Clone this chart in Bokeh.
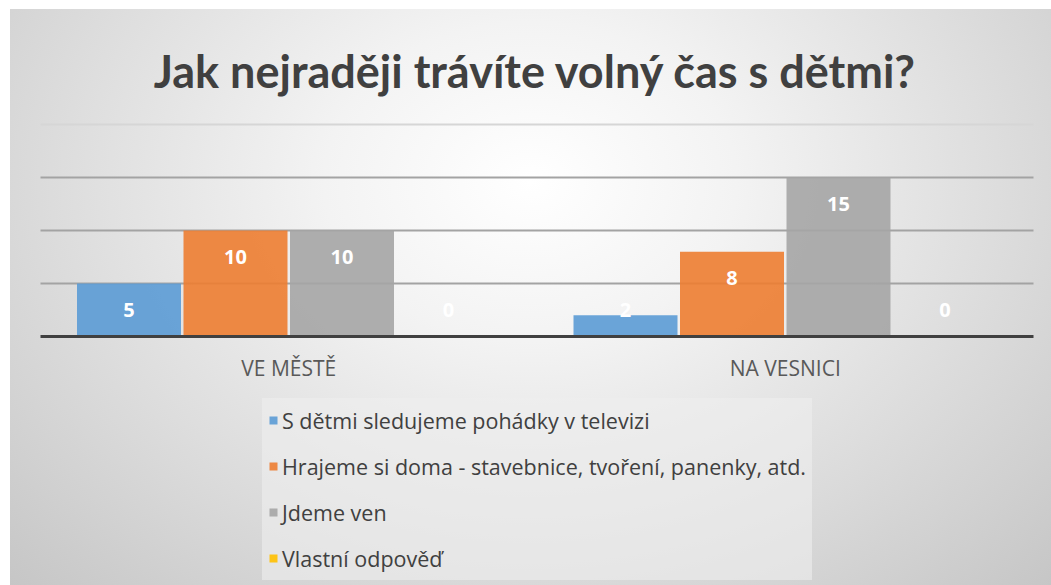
import numpy as np
from bokeh.plotting import figure
from bokeh.models import ColumnDataSource, Range1d, Legend, LegendItem, Label
from bokeh.core.properties import value
from bokeh.embed import file_html
from bokeh.resources import INLINE

# ---- data ----
title_text = "Jak nejraději trávíte volný čas s dětmi?"
categories = ["VE MĚSTĚ", "NA VESNICI"]
series_names = [
    "S dětmi sledujeme pohádky v televizi",
    "Hrajeme si doma - stavebnice, tvoření, panenky, atd.",
    "Jdeme ven",
    "Vlastní odpověď",
]
tv_values = [5, 2]
doma_values = [10, 8]
ven_values = [10, 15]
vlastni_values = [0, 0]
series_values = [tv_values, doma_values, ven_values, vlastni_values]
series_colors = ["#5b9bd5", "#ed7d31", "#a5a5a5", "#ffc000"]
grid_ticks = [5, 10, 15, 20]
grid_colors = ["#a3a3a3", "#a3a3a3", "#a3a3a3", "#d6d6d6"]

# ---- layout geometry (pixels) ----
W, H = 1051, 585
plot_left, plot_right = 40, 1033
base_px, px_per_unit = 336, 10.6
n_cat = len(categories)
cat_w = (plot_right - plot_left) / n_cat
x_start = -plot_left / cat_w
x_end = (W - plot_left) / cat_w
y_top = base_px / px_per_unit
y_bot = (base_px - H) / px_per_unit

def px_x(px):
    return (px - plot_left) / cat_w

def px_y(py):
    return (base_px - py) / px_per_unit

p = figure(width=W, height=H, x_range=Range1d(x_start, x_end),
           y_range=Range1d(y_bot, y_top), x_axis_type=None, y_axis_type=None,
           toolbar_location=None, output_backend="svg", min_border=0)
p.outline_line_color = None
p.background_fill_alpha = 0
p.border_fill_alpha = 0
p.styles = {
    "background": "radial-gradient(ellipse farthest-corner at 50% 30%, #ffffff 0%, #f3f3f3 28%, #dedede 62%, #c6c6c6 100%) 10px 9px / 1041px 576px no-repeat, #ffffff"
}

# gridlines
gsrc = ColumnDataSource(dict(x0=[0] * len(grid_ticks), x1=[n_cat] * len(grid_ticks),
                             y=grid_ticks, c=grid_colors))
p.segment(x0="x0", x1="x1", y0="y", y1="y", line_color="c", line_width=2, source=gsrc)

# bars
pitch = 106.5 / cat_w
bar_w = 104 / cat_w
idx = np.arange(n_cat) + 0.5
renderers = []
for j, (vals, col) in enumerate(zip(series_values, series_colors)):
    xs = idx + (j - (len(series_values) - 1) / 2) * pitch
    src = ColumnDataSource(dict(x=xs, top=vals))
    r = p.vbar(x="x", top="top", bottom=0, width=bar_w, fill_color=col,
               fill_alpha=0.9, line_color=None, source=src)
    renderers.append(r)
    lab = ColumnDataSource(dict(x=xs, y=np.maximum(np.array(vals, float), 5) - 26 / px_per_unit,
                                t=[str(v) for v in vals]))
    p.text(x="x", y="y", text="t", source=lab, text_color="white",
           text_font=value("Open Sans"), text_font_style="bold", text_font_size="20px",
           text_align="center", text_baseline="middle")

# baseline axis
p.segment(x0=[0], x1=[n_cat], y0=[0], y1=[0], line_color="#404040", line_width=3)

# category labels
csrc = ColumnDataSource(dict(x=idx, y=[px_y(367)] * n_cat, t=categories))
p.text(x="x", y="y", text="t", source=csrc, text_color="#595959",
       text_font=value("Open Sans"), text_font_size="21px",
       text_align="center", text_baseline="middle")

# title
p.add_layout(Label(x=px_x(535), y=px_y(70), text=title_text, text_color="#404040",
                   text_font="Lato", text_font_style="bold", text_font_size="45px",
                   text_align="center", text_baseline="middle"))

# legend
legend = Legend(items=[LegendItem(label=n, renderers=[r]) for n, r in zip(series_names, renderers)],
                location=(262, 5), orientation="vertical")
legend.label_text_font = "Open Sans"
legend.label_text_font_size = "21.5px"
legend.label_text_color = "#404040"
legend.label_height = 32
legend.glyph_height = 10
legend.glyph_width = 10
legend.label_standoff = 4
legend.spacing = 14
legend.padding = 6
legend.margin = 0
legend.border_line_alpha = 0
legend.background_fill_color = "#eeeeee"
legend.background_fill_alpha = 0.6
p.add_layout(legend)

open("out.html", "w").write(file_html(p, INLINE))
